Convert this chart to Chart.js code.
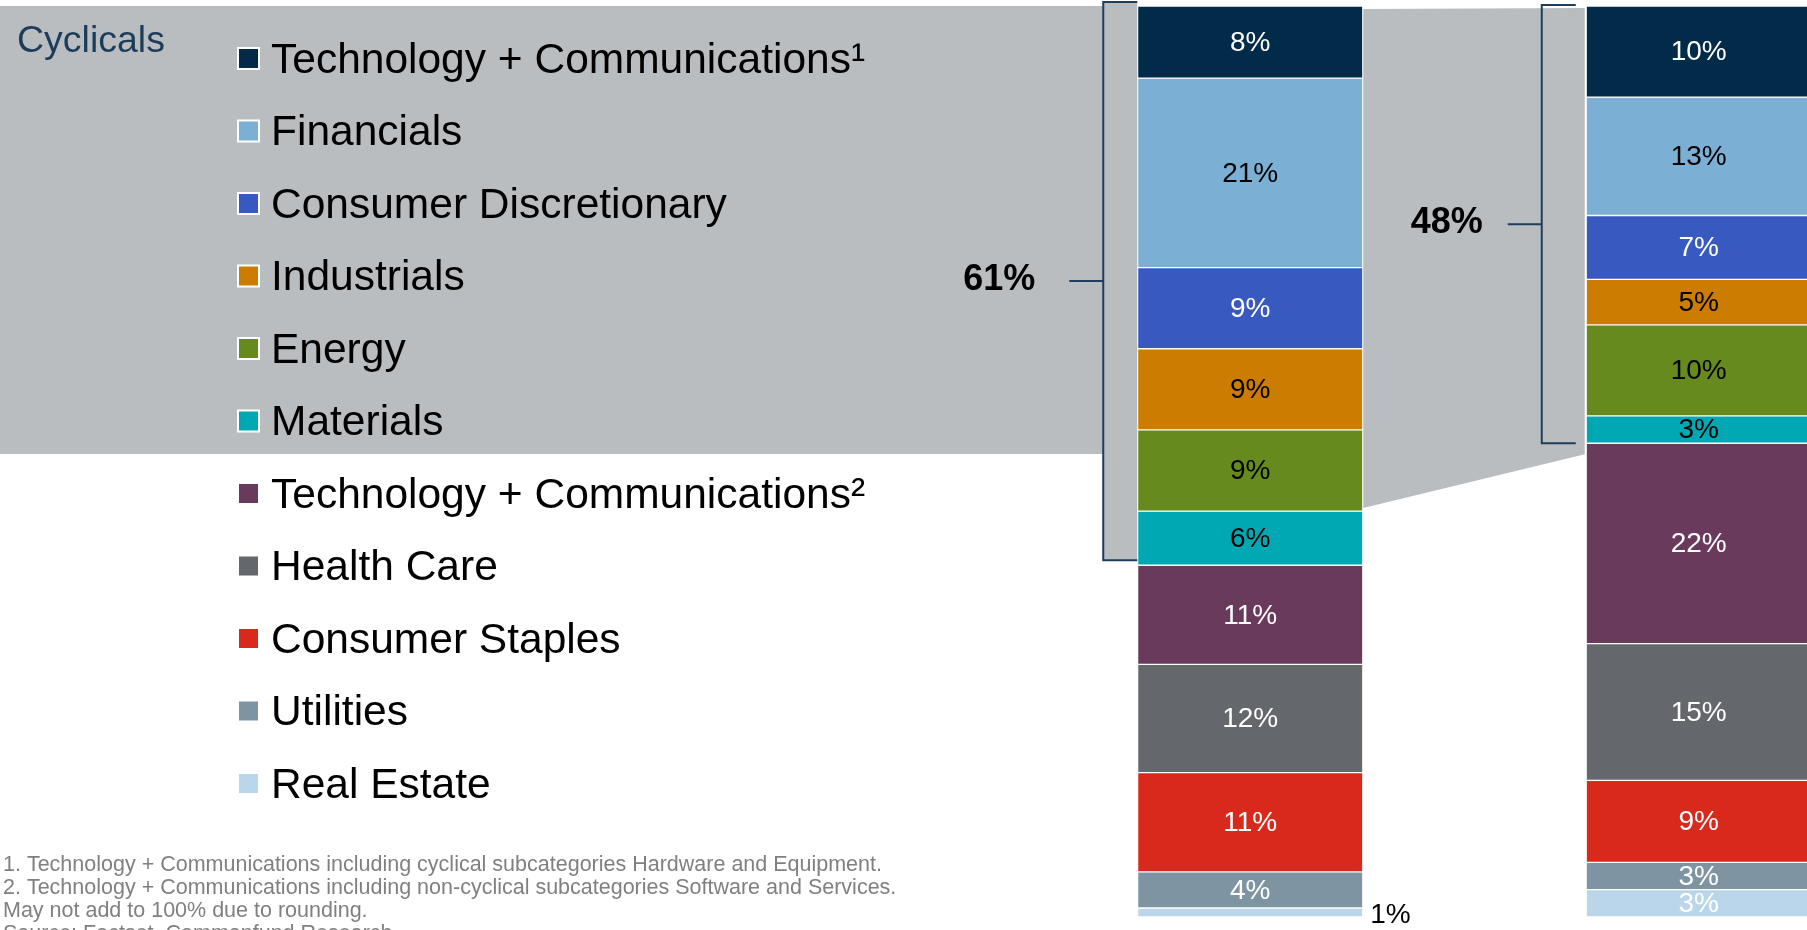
<!DOCTYPE html>
<html>
<head>
<meta charset="utf-8">
<script src="https://cdn.jsdelivr.net/npm/chart.js@4"></script>
<style>
  html, body { margin: 0; padding: 0; background: #fff; overflow: hidden; }
  canvas { display: block; }
</style>
</head>
<body>
<canvas id="sectorChart" width="1923" height="930"></canvas>
<script>
// sector weights, top of the stack first
const sectors = ['Technology + Communications¹', 'Financials', 'Consumer Discretionary', 'Industrials', 'Energy', 'Materials',
  'Technology + Communications²', 'Health Care', 'Consumer Staples', 'Utilities', 'Real Estate'];
const sectorColors = ['#012b48', '#7bafd4', '#3859bf', '#cc7c00', '#668a1e', '#00a8b4',
  '#6a3a5c', '#64676b', '#d9281c', '#7f94a2', '#bad6ea'];
const labelInk = ['#fff', '#000', '#fff', '#000', '#000', '#000', '#fff', '#fff', '#fff', '#fff', '#fff'];
const barNames = ['Period 1', 'Period 2'];
const firstBar = [8, 21, 9, 9, 9, 6, 11, 12, 11, 4, 1];
const secondBar = [10, 13, 7, 5, 10, 3, 22, 15, 9, 3, 3];
const cyclicalCount = 6;
const cyclicalTotals = [61, 48];
const footnotes = [
  '1. Technology + Communications including cyclical subcategories Hardware and Equipment.',
  '2. Technology + Communications including non-cyclical subcategories Software and Services.',
  'May not add to 100% due to rounding.',
  'Source: Factset, Commonfund Research'
];

const FONT = "'Liberation Sans', Arial, sans-serif";
const BAR_W = 224;
const GREY = '#babdc0';
const BRACKET = '#1f3d5c';

Chart.defaults.font.family = FONT;

const sum = (arr) => arr.reduce((a, b) => a + b, 0);
const bars = [firstBar, secondBar];

// one dataset per sector per bar, so each bar gets its own 0..total scale
const datasets = [];
bars.forEach((values, b) => {
  values.forEach((v, i) => {
    datasets.push({
      label: sectors[i],
      data: b === 0 ? [v, null] : [null, v],
      barIndex: b,
      sectorIndex: i,
      yAxisID: b === 0 ? 'y' : 'y2',
      backgroundColor: sectorColors[i],
      borderColor: '#fff',
      borderWidth: {top: 1, bottom: 1, left: 0, right: 0},
      borderSkipped: false,
      barThickness: BAR_W,
      grouped: false
    });
  });
});

const backdrop = {
  id: 'backdrop',
  beforeDatasetsDraw(chart) {
    const {ctx} = chart;
    const xs = chart.scales.x;
    const ys = [chart.scales.y, chart.scales.y2];
    const left = [xs.getPixelForValue(0) - BAR_W / 2, xs.getPixelForValue(1) - BAR_W / 2];
    const right1 = left[0] + BAR_W;
    const top = ys.map(s => s.getPixelForValue(0));
    const cyc = bars.map(v => sum(v.slice(0, cyclicalCount)));
    const cycBottom = [ys[0].getPixelForValue(cyc[0]) - 5, ys[1].getPixelForValue(cyc[1])];
    const brX = [left[0] - 35, left[1] - 45];
    const brEnd = [left[0] - 1, left[1] - 11];
    const brTop = [top[0] - 4, top[1] - 1];
    const totalGap = [34, 25];

    // legend rows
    const rowY0 = 58.5, rowStep = 72.5;
    const bandBottom = rowY0 + rowStep * (cyclicalCount - 1) + 33;

    ctx.save();
    ctx.fillStyle = GREY;
    ctx.fillRect(0, top[0], brX[0], bandBottom - top[0]);
    ctx.fillRect(brX[0], brTop[0], left[0] - 1 - brX[0], cycBottom[0] - brTop[0]);

    // wedge leading to the second bar
    const lastCyc = firstBar[cyclicalCount - 1];
    ctx.beginPath();
    ctx.moveTo(right1 + 1, top[0] + 3);
    ctx.lineTo(left[1] - 2, top[1] + 2);
    ctx.lineTo(left[1] - 2, ys[1].getPixelForValue(cyc[1]) + 11);
    ctx.lineTo(right1 + 1, ys[0].getPixelForValue(cyc[0] - lastCyc) - 3);
    ctx.closePath();
    ctx.fill();

    // brackets with totals
    ctx.strokeStyle = BRACKET;
    ctx.lineWidth = 2;
    for (let b = 0; b < 2; b++) {
      const mid = (brTop[b] + cycBottom[b]) / 2;
      ctx.beginPath();
      ctx.moveTo(brEnd[b], brTop[b]);
      ctx.lineTo(brX[b], brTop[b]);
      ctx.lineTo(brX[b], cycBottom[b]);
      ctx.lineTo(brEnd[b], cycBottom[b]);
      ctx.moveTo(brX[b] - 34, mid);
      ctx.lineTo(brX[b], mid);
      ctx.stroke();

      ctx.fillStyle = '#000';
      ctx.font = 'bold 36px ' + FONT;
      ctx.textAlign = 'right';
      ctx.textBaseline = 'middle';
      ctx.fillText(cyclicalTotals[b] + '%', brX[b] - 34 - totalGap[b], mid - 1);
    }

    ctx.fillStyle = '#1c3d5a';
    ctx.font = '37.5px ' + FONT;
    ctx.textAlign = 'left';
    ctx.fillText('Cyclicals', 17, 42);

    sectors.forEach((name, i) => {
      const cy = rowY0 + rowStep * i;
      ctx.fillStyle = '#fff';
      ctx.fillRect(237, cy - 11.5, 23, 23);
      ctx.fillStyle = sectorColors[i];
      ctx.fillRect(239, cy - 9.5, 19, 19);
      ctx.fillStyle = '#000';
      ctx.font = '42.5px ' + FONT;
      ctx.fillText(name, 271, cy + 2.5);
    });

    ctx.fillStyle = '#808080';
    ctx.font = '21.5px ' + FONT;
    footnotes.forEach((line, i) => ctx.fillText(line, 3, 865 + 23 * i));
    ctx.restore();
  }
};

const segmentLabels = {
  id: 'segmentLabels',
  afterDatasetsDraw(chart) {
    const {ctx} = chart;
    ctx.save();
    ctx.font = '28px ' + FONT;
    ctx.textBaseline = 'middle';
    chart.data.datasets.forEach((ds, di) => {
      const b = ds.barIndex;
      const el = chart.getDatasetMeta(di).data[b];
      const v = ds.data[b];
      const mid = (el.y + el.base) / 2;
      if (v < 2) {
        ctx.fillStyle = '#000';
        ctx.textAlign = 'left';
        ctx.fillText(v + '%', el.x + BAR_W / 2 + 8, mid + 3);
      } else {
        ctx.fillStyle = labelInk[ds.sectorIndex];
        ctx.textAlign = 'center';
        ctx.fillText(v + '%', el.x, mid + 1);
      }
    });
    ctx.restore();
  }
};

new Chart(document.getElementById('sectorChart'), {
  type: 'bar',
  data: { labels: barNames, datasets: datasets },
  options: {
    responsive: false,
    animation: false,
    devicePixelRatio: 1,
    layout: { padding: { left: 1026, right: 0, top: 6, bottom: 13 } },
    scales: {
      x: { display: false, stacked: true, offset: true },
      y: { display: false, stacked: true, reverse: true, min: 0, max: sum(firstBar) },
      y2: { display: false, stacked: true, reverse: true, min: 0, max: sum(secondBar) }
    },
    plugins: {
      legend: { display: false },
      tooltip: { enabled: false }
    }
  },
  plugins: [backdrop, segmentLabels]
});
</script>
</body>
</html>
